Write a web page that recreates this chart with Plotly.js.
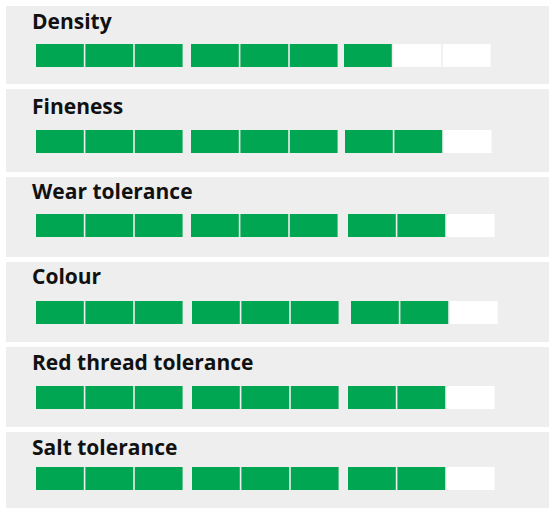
<!DOCTYPE html>
<html>
<head>
<meta charset="utf-8">
<script src="https://cdn.plot.ly/plotly-3.0.1.min.js"></script>
<style>html,body{margin:0;padding:0;background:#fff;}#chart{width:549px;height:508px;}</style>
</head>
<body>
<div id="chart"></div>
<script>
// ---- data ----
var attributes = ["Density", "Fineness", "Wear tolerance", "Colour", "Red thread tolerance", "Salt tolerance"];
var ratings = [7, 8, 8, 8, 8, 8];
var maxScore = 9;

// ---- layout / style (pixel space) ----
var W = 549, H = 508;
var panelTop = [6, 89, 177, 262, 347, 432];
var panelBottom = [84, 172, 257, 342, 427, 508];
var titleY = [21, 106, 191, 276, 362, 447];
var barCenter = [55.5, 141.5, 225.5, 312.5, 397.5, 478.5];
var groupStart = [[36, 191, 344], [36, 191, 345], [36, 191, 348], [36, 192, 351], [36, 192, 348], [36, 192, 348]];
var segStep = 49.4, segW = 47.8, barH = 23;
var green = "#00a651", empty = "#ffffff", panelBg = "#eeeeee";

var traces = [];
var shapes = [];
var annotations = [];
for (var i = 0; i < attributes.length; i++) {
  shapes.push({type: "rect", xref: "x", yref: "y", x0: 6, x1: 549, y0: panelTop[i], y1: panelBottom[i],
               fillcolor: panelBg, line: {width: 0}, layer: "below"});
  annotations.push({x: 30, y: titleY[i], xref: "x", yref: "y", text: "<b>" + attributes[i] + "</b>",
                    showarrow: false, xanchor: "left", yanchor: "middle",
                    font: {family: "Open Sans, sans-serif", size: 21, color: "#111111"}});
  var bases = [], lens = [], ys = [], cols = [];
  for (var s = 0; s < maxScore; s++) {
    var g = Math.floor(s / 3), k = s % 3;
    bases.push(groupStart[i][g] + k * segStep);
    lens.push(segW);
    ys.push(barCenter[i]);
    cols.push(s < ratings[i] ? green : empty);
  }
  traces.push({type: "bar", orientation: "h", base: bases, x: lens, y: ys, width: barH,
               marker: {color: cols, line: {width: 0}}, hoverinfo: "skip", showlegend: false});
}

var layout = {
  width: W, height: H,
  margin: {l: 0, r: 0, t: 0, b: 0},
  paper_bgcolor: "#ffffff", plot_bgcolor: "rgba(0,0,0,0)",
  barmode: "overlay",
  xaxis: {range: [0, W], visible: false, fixedrange: true},
  yaxis: {range: [H, 0], visible: false, fixedrange: true},
  shapes: shapes,
  annotations: annotations
};
Plotly.newPlot("chart", traces, layout, {displayModeBar: false, staticPlot: true});
</script>
</body>
</html>
